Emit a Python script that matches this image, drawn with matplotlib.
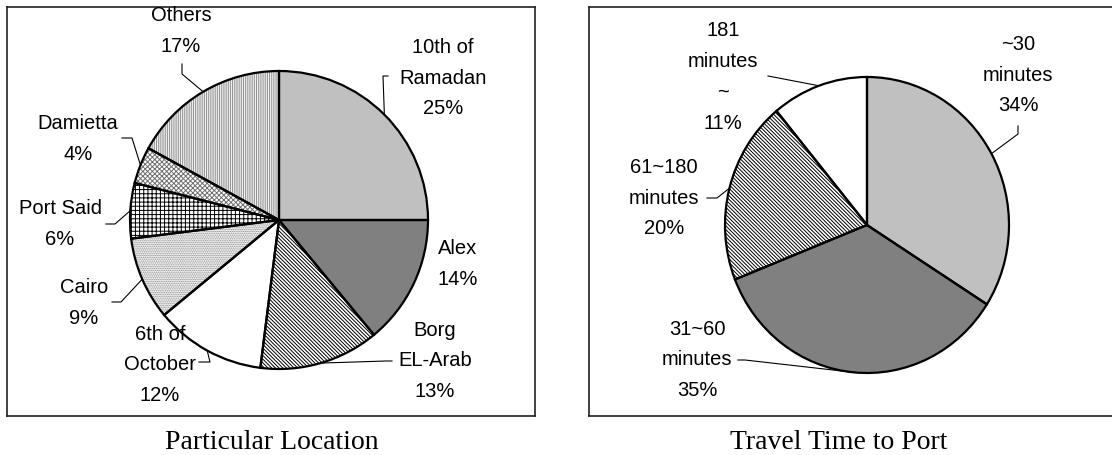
import numpy as np
import matplotlib
matplotlib.use("Agg")
import matplotlib.pyplot as plt

plt.rcParams['font.family'] = ['Liberation Sans', 'DejaVu Sans']
plt.rcParams['hatch.linewidth'] = 0.7

# --- data ---
loc_labels = ['10th of\nRamadan', 'Alex', 'Borg\nEL-Arab', '6th of\nOctober',
              'Cairo', 'Port Said', 'Damietta', 'Others']
loc_values = [25, 14, 13, 12, 9, 6, 4, 17]

time_labels = ['~30\nminutes', '31~60\nminutes', '61~180\nminutes', '181\nminutes\n~']
time_values = [34, 35, 20, 11]

titles = ['Particular Location', 'Travel Time to Port']

# --- styles (face, hatch, hatch colour) ---
loc_styles = [('#c0c0c0', None, None), ('#808080', None, None),
              ('white', '\\' * 9, 'black'), ('white', None, None),
              ('white', '.' * 9, '#808080'), ('white', '+' * 4, 'black'),
              ('white', 'x' * 7, '#707070'), ('white', '|' * 9, '#909090')]
time_styles = [('#c0c0c0', None, None), ('#808080', None, None),
               ('white', '\\' * 9, 'black'), ('white', None, None)]

# label layout in pixels: text centre, leader start, leader elbow
loc_layout = [((443, 78), (388, 77), (383, 77)),
              ((458, 264), None, None),
              ((435, 361), (392, 362), (386, 362)),
              ((160, 365), (199, 363), (210, 363)),
              ((84, 303), (112, 303), (121, 303)),
              ((60, 224), (106, 225), (115, 225)),
              ((78, 139), (122, 139), (132, 139)),
              ((181, 31), (182, 65), (182, 75))]
time_layout = [((1018, 75), (1018, 127), (1018, 135)),
               ((697, 360), (738, 361), (745, 361)),
               ((664, 198), (707, 199), (717, 199)),
               ((723, 77), (768, 77), (768, 77))]

W, H = 1112, 456
fig = plt.figure(figsize=(W / 100, H / 100), dpi=100)


def draw_pie(box, centre, rx, ry, labels, values, styles, layout, title, title_x):
    x0, y0, x1, y1 = box
    cx, cy = centre
    ax = fig.add_axes([x0 / W, (H - y1) / H, (x1 - x0) / W, (y1 - y0) / H])

    def to_data(px, py):
        return (px - cx) / rx, (cy - py) / ry

    wedges, _ = ax.pie(values, startangle=90, counterclock=False, radius=1)
    for w, (face, hatch, hcol) in zip(wedges, styles):
        w.set_facecolor(face)
        if hatch:
            w.set_hatch(hatch)
            w.set_edgecolor(hcol)
        w.set_linewidth(0)
    ax.pie(values, startangle=90, counterclock=False, radius=1,
           wedgeprops=dict(fill=False, edgecolor='black', linewidth=1.6))

    total = float(sum(values))
    cum = np.cumsum([0] + list(values))
    for i, lab in enumerate(labels):
        pct = '%d%%' % round(100 * values[i] / total)
        (tx, ty), start, elbow = layout[i]
        ax.text(*to_data(tx, ty), lab + '\n' + pct, ha='center', va='center',
                fontsize=14.5, linespacing=1.78, clip_on=False)
        if start is None:
            continue
        mid = np.deg2rad(90 - 360 * (cum[i] + cum[i + 1]) / 2 / total)
        ex, ey = np.cos(mid), np.sin(mid)
        sx, sy = to_data(*start)
        bx, by = to_data(*elbow)
        ax.plot([sx, bx, ex], [sy, by, ey], color='black', lw=0.8)

    ax.set_aspect('auto')
    lx0, ly1 = to_data(x0, y0)
    lx1, ly0 = to_data(x1, y1)
    ax.set_xlim(lx0, lx1)
    ax.set_ylim(ly0, ly1)
    ax.set_frame_on(True)
    for s in ax.spines.values():
        s.set_color('#202020')
        s.set_linewidth(1.2)
    ax.set_xticks([])
    ax.set_yticks([])
    fig.text(title_x / W, 1 - 443 / H, title, ha='center', va='center',
             family='Liberation Serif', fontsize=20)
    return ax


draw_pie((7, 8, 535, 417), (279, 221), 149, 149, loc_labels, loc_values,
         loc_styles, loc_layout, titles[0], 272)
ax2 = draw_pie((589, 8, 1125, 417), (867, 226), 142, 148, time_labels, time_values,
               time_styles, time_layout, titles[1], 839)
ax2.spines['right'].set_visible(False)

fig.savefig('out.png', dpi=100, facecolor='white')
